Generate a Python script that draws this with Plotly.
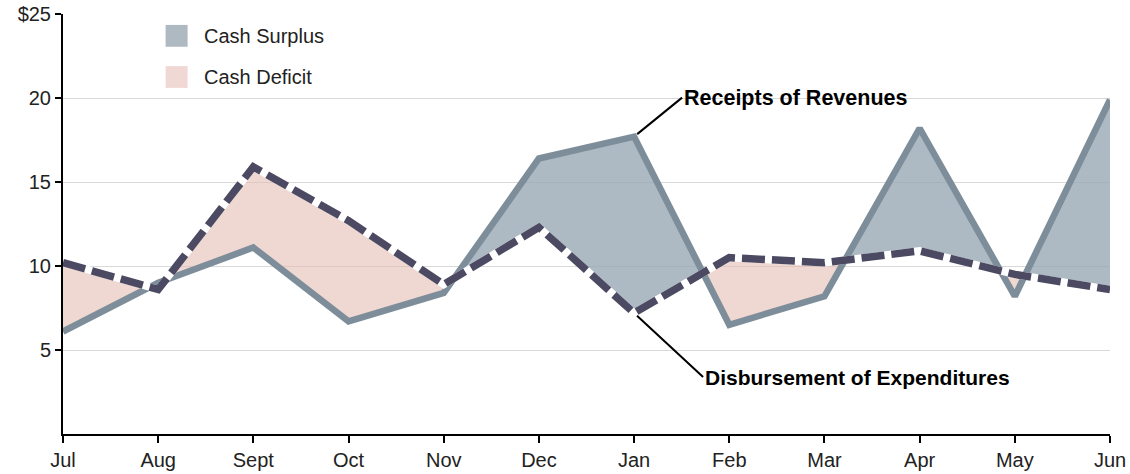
import plotly.graph_objects as go

# Monthly cash flow, fiscal year July-June ($ millions)
months = ["Jul", "Aug", "Sept", "Oct", "Nov", "Dec", "Jan", "Feb", "Mar", "Apr", "May", "Jun"]
receipts = [6.1, 9.0, 11.1, 6.7, 8.4, 16.4, 17.7, 6.5, 8.2, 18.2, 8.2, 19.9]
disbursements = [10.2, 8.6, 15.9, 12.7, 8.9, 12.3, 7.2, 10.5, 10.2, 10.9, 9.5, 8.6]
y_ticks = [5, 10, 15, 20, 25]
y_labels = ["5", "10", "15", "20", "$25"]

FONT = "Liberation Sans"
REV_COLOR = "#7d8e9a"
EXP_COLOR = "#4b4a62"
SURPLUS_FILL = "rgba(150,165,178,0.78)"
DEFICIT_FILL = "rgba(228,186,178,0.58)"

xs = list(range(len(months)))


def band_polygons(x, top, bottom):
    """Split the area between two series into surplus and deficit polygons."""
    surplus_x, surplus_y, deficit_x, deficit_y = [], [], [], []

    def add(poly, sign):
        px = [p[0] for p in poly] + [poly[0][0], None]
        py = [p[1] for p in poly] + [poly[0][1], None]
        if sign >= 0:
            surplus_x.extend(px); surplus_y.extend(py)
        else:
            deficit_x.extend(px); deficit_y.extend(py)

    for i in range(len(x) - 1):
        d0 = top[i] - bottom[i]
        d1 = top[i + 1] - bottom[i + 1]
        if d0 * d1 >= 0:
            sign = d0 + d1
            add([(x[i], top[i]), (x[i + 1], top[i + 1]),
                 (x[i + 1], bottom[i + 1]), (x[i], bottom[i])], sign)
        else:
            t = d0 / (d0 - d1)
            cx = x[i] + t * (x[i + 1] - x[i])
            cy = top[i] + t * (top[i + 1] - top[i])
            add([(x[i], top[i]), (cx, cy), (x[i], bottom[i])], d0)
            add([(cx, cy), (x[i + 1], top[i + 1]), (x[i + 1], bottom[i + 1])], d1)
    return surplus_x, surplus_y, deficit_x, deficit_y


sx, sy, dx, dy = band_polygons(xs, receipts, disbursements)

fig = go.Figure()
fig.add_trace(go.Scatter(x=sx, y=sy, mode="lines", fill="toself",
                         fillcolor=SURPLUS_FILL, line=dict(width=0),
                         hoverinfo="skip", showlegend=False))
fig.add_trace(go.Scatter(x=dx, y=dy, mode="lines", fill="toself",
                         fillcolor=DEFICIT_FILL, line=dict(width=0),
                         hoverinfo="skip", showlegend=False))
fig.add_trace(go.Scatter(x=xs, y=receipts, mode="lines",
                         line=dict(color=REV_COLOR, width=6.5), showlegend=False))
# white underlay so the gaps of the dashed line read as white
fig.add_trace(go.Scatter(x=xs, y=disbursements, mode="lines",
                         line=dict(color="white", width=7.5), showlegend=False))
fig.add_trace(go.Scatter(x=xs, y=disbursements, mode="lines",
                         line=dict(color=EXP_COLOR, width=7.5, dash="23px,7px"),
                         showlegend=False))

# legend swatches
legend_items = [("Cash Surplus", "#aeb9c2", 0.948), ("Cash Deficit", "#f0d9d5", 0.850)]
for label, color, yp in legend_items:
    fig.add_shape(type="rect", xref="paper", yref="paper",
                  x0=0.098, x1=0.119, y0=yp - 0.026, y1=yp + 0.026,
                  fillcolor=color, line=dict(width=0))
    fig.add_annotation(xref="paper", yref="paper", x=0.133, y=yp, text=label,
                       showarrow=False, xanchor="left", yanchor="middle",
                       font=dict(family=FONT, size=20, color="#222"))

# series callouts
fig.add_annotation(x=6, y=receipts[6], text="<b>Receipts of Revenues</b>",
                   showarrow=True, arrowhead=0, arrowwidth=2, arrowcolor="black",
                   ax=48, ay=-39, xanchor="left", yanchor="middle", standoff=4,
                   font=dict(family=FONT, size=21.5, color="black"))
fig.add_annotation(x=6, y=disbursements[6], text="<b>Disbursement of Expenditures</b>",
                   showarrow=True, arrowhead=0, arrowwidth=2, arrowcolor="black",
                   ax=69, ay=64, xanchor="left", yanchor="middle", standoff=4,
                   font=dict(family=FONT, size=21, color="black"))

fig.update_layout(
    width=1130, height=474,
    margin=dict(l=63, r=20, t=14, b=40),
    paper_bgcolor="white", plot_bgcolor="white",
    font=dict(family=FONT, size=20, color="#222"),
    xaxis=dict(range=[0, 11], tickvals=xs, ticktext=months, showgrid=False,
               zeroline=False, showline=True, linecolor="black", linewidth=2,
               ticks="outside", ticklen=7, tickwidth=2, tickcolor="black",
               automargin=False,
               tickfont=dict(family=FONT, size=20, color="#222")),
    yaxis=dict(range=[0, 25], tickvals=y_ticks, ticktext=y_labels, showgrid=True,
               gridcolor="#d9d9d9", gridwidth=1, zeroline=False, showline=True,
               linecolor="black", linewidth=2, ticks="outside", ticklen=6,
               tickwidth=2, tickcolor="black", automargin=False,
               tickfont=dict(family=FONT, size=20, color="#222")),
)

fig.write_html("out.html")
